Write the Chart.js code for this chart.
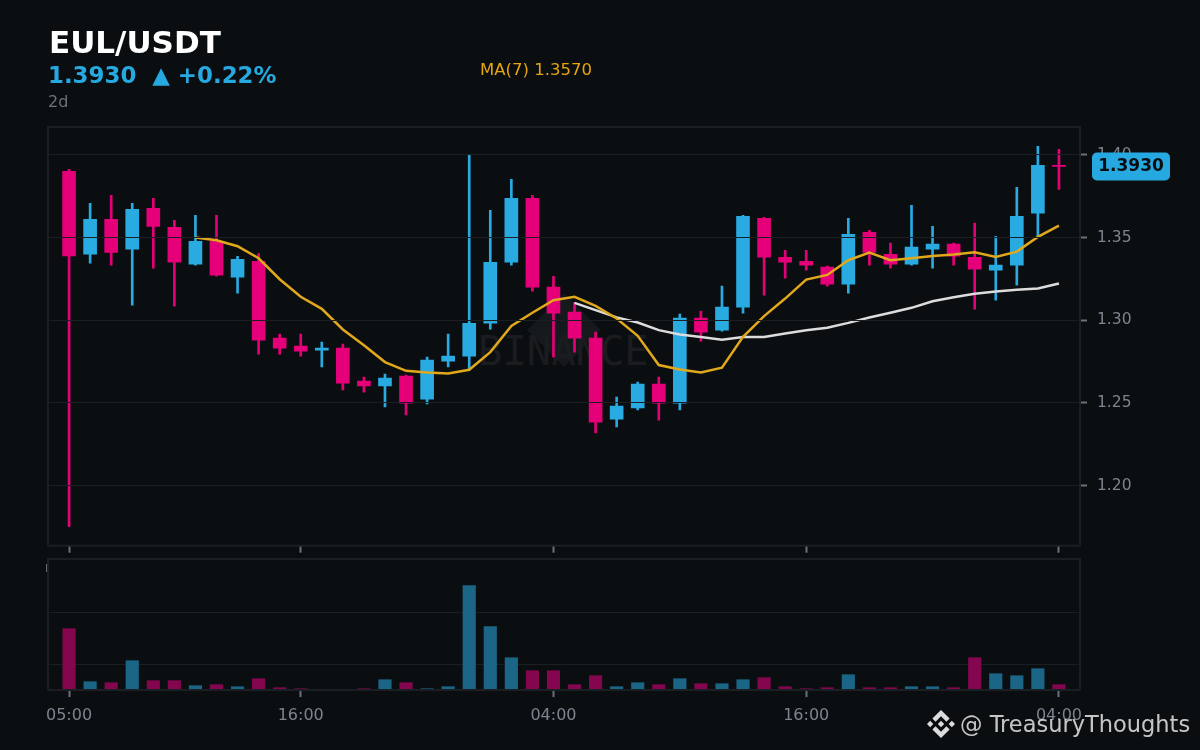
<!DOCTYPE html>
<html>
<head>
<meta charset="utf-8">
<script src="https://cdn.jsdelivr.net/npm/chart.js@4"></script>
<style>
  html, body { margin: 0; padding: 0; width: 1200px; height: 750px; overflow: hidden; background: #0b0e11; }
  body { position: relative; font-family: "DejaVu Sans", sans-serif; }
  canvas { position: absolute; left: 0; }
  #priceChart { top: 0; }
  #volumeChart { top: 555px; }
  .label { position: absolute; white-space: pre; line-height: 1; }
  #title { left: 49px; top: 27px; font-size: 31px; font-weight: bold; color: #ffffff; }
  #quote { left: 48px; top: 64px; font-size: 22.9px; font-weight: bold; color: #26a9e0; }
  #period { left: 48px; top: 94px; font-size: 16px; color: #6d737b; }
  #maText { left: 480px; top: 62px; font-size: 16.5px; color: #e6a50f; }
  #wmText { left: 478px; top: 331px; font-family: "DejaVu Sans Mono", monospace; font-size: 40.5px; color: #1a1c1f; }
  #wmDiamond { position: absolute; left: 538px; top: 304px; width: 52px; height: 52px; background: #16191c; transform: rotate(45deg); }
  #sliver { position: absolute; left: 46px; top: 564px; width: 1px; height: 8px; background: #6a6f76; }
  #handle { left: 960px; top: 713px; font-size: 22.5px; color: rgba(228, 228, 228, 0.86); }
  #logo { position: absolute; left: 927px; top: 710px; width: 28px; height: 28px; }
</style>
</head>
<body>
<div id="wmDiamond"></div>
<div class="label" id="wmText">BINANCE</div>
<canvas id="priceChart" width="1200" height="565"></canvas>
<canvas id="volumeChart" width="1200" height="195"></canvas>
<div class="label" id="title">EUL/USDT</div>
<div class="label" id="quote">1.3930  ▲ +0.22%</div>
<div class="label" id="period">2d</div>
<div class="label" id="maText">MA(7) 1.3570</div>
<div id="sliver"></div>
<svg id="logo" viewBox="0 0 126.61 126.61">
  <path fill="#dcdcdc" d="M38.73 53.2l24.59-24.58 24.6 24.6 14.3-14.31L63.32 0 24.42 38.9l14.31 14.3zM0 63.31l14.3-14.31 14.31 14.31-14.31 14.3zM38.73 73.41l24.59 24.59 24.6-24.6 14.31 14.29-38.9 38.91-38.91-38.88-.02-.02zM98 63.31l14.3-14.31 14.31 14.3-14.31 14.32zM77.83 63.3L63.32 48.78 52.59 59.51l-1.24 1.23-2.54 2.54 14.51 14.5 14.51-14.47z"/>
</svg>
<div class="label" id="handle">@ TreasuryThoughts</div>

<script>
const opens = [1.3901, 1.3399, 1.3611, 1.3430, 1.3677, 1.3562, 1.3339, 1.3478, 1.3260, 1.3357, 1.2892, 1.2843,
  1.2819, 1.2831, 1.2632, 1.2602, 1.2662, 1.2523, 1.2753, 1.2783, 1.2982, 1.3351, 1.3738, 1.3200,
  1.3049, 1.2892, 1.2402, 1.2469, 1.2614, 1.2499, 1.3013, 1.2940, 1.3079, 1.3617, 1.3381, 1.3357,
  1.3321, 1.3218, 1.3532, 1.3399, 1.3339, 1.3430, 1.3460, 1.3381, 1.3303, 1.3333, 1.3647, 1.3937];
const closes = [1.3389, 1.3611, 1.3411, 1.3671, 1.3568, 1.3351, 1.3478, 1.3272, 1.3369, 1.2880, 1.2831, 1.2813,
  1.2831, 1.2620, 1.2602, 1.2650, 1.2499, 1.2759, 1.2783, 1.2982, 1.3351, 1.3738, 1.3200, 1.3043,
  1.2892, 1.2384, 1.2481, 1.2614, 1.2499, 1.3013, 1.2928, 1.3079, 1.3629, 1.3381, 1.3351, 1.3333,
  1.3218, 1.3520, 1.3411, 1.3339, 1.3442, 1.3460, 1.3387, 1.3309, 1.3333, 1.3629, 1.3937, 1.3930];
const highs = [1.3913, 1.3707, 1.3756, 1.3707, 1.3738, 1.3605, 1.3635, 1.3635, 1.3387, 1.3403, 1.2916, 1.2916,
  1.2868, 1.2856, 1.2656, 1.2674, 1.2668, 1.2777, 1.2916, 1.3997, 1.3665, 1.3852, 1.3756, 1.3266,
  1.3109, 1.2928, 1.2535, 1.2626, 1.2656, 1.3037, 1.3055, 1.3206, 1.3635, 1.3623, 1.3423, 1.3423,
  1.3327, 1.3617, 1.3544, 1.3466, 1.3695, 1.3568, 1.3466, 1.3587, 1.3508, 1.3804, 1.4052, 1.4034];
const lows = [1.1751, 1.3345, 1.3333, 1.3091, 1.3315, 1.3085, 1.3333, 1.3266, 1.3164, 1.2795, 1.2795, 1.2783,
  1.2717, 1.2578, 1.2565, 1.2475, 1.2427, 1.2493, 1.2717, 1.2698, 1.2946, 1.3333, 1.3176, 1.2777,
  1.2807, 1.2318, 1.2354, 1.2457, 1.2396, 1.2457, 1.2874, 1.2934, 1.3043, 1.3152, 1.3254, 1.3303,
  1.3206, 1.3164, 1.3333, 1.3315, 1.3333, 1.3315, 1.3333, 1.3067, 1.3121, 1.3212, 1.3502, 1.3792];
// first value of each moving average is at candle 6 and candle 24
const ma7 = [1.3500, 1.3484, 1.3448, 1.3375, 1.3248, 1.3142, 1.3069, 1.2944, 1.2849, 1.2747, 1.2694, 1.2684,
  1.2678, 1.2700, 1.2807, 1.2966, 1.3045, 1.3121, 1.3142, 1.3087, 1.3011, 1.2906, 1.2729, 1.2702,
  1.2684, 1.2713, 1.2900, 1.3025, 1.3131, 1.3246, 1.3274, 1.3363, 1.3409, 1.3363, 1.3375, 1.3389,
  1.3397, 1.3411, 1.3383, 1.3415, 1.3504, 1.3572];
const ma25 = [1.3105, 1.3061, 1.3017, 1.2986, 1.2940, 1.2914, 1.2898, 1.2882, 1.2898, 1.2898, 1.2920, 1.2940,
  1.2954, 1.2984, 1.3017, 1.3045, 1.3075, 1.3115, 1.3139, 1.3160, 1.3174, 1.3184, 1.3192, 1.3222];
const volumes = [61.3, 8.3, 7.3, 29.3, 9.3, 9.3, 4.3, 5.3, 3.3, 11.3, 2.3, 1.3,
  0.6, 0.5, 1.3, 10.3, 7.3, 1.3, 3.3, 104.3, 63.3, 32.3, 19.3, 19.3,
  5.3, 14.3, 3.3, 7.3, 5.3, 11.3, 6.3, 6.3, 10.3, 12.3, 3.3, 1.3,
  2.3, 15.3, 2.3, 2.3, 3.3, 3.3, 2.3, 32.3, 16.3, 14.3, 21.3, 5.3];
const xTickIndexes = [0, 11, 23, 35, 47];
const xTickLabels = ["05:00", "16:00", "04:00", "16:00", "04:00"];
const priceTicks = [1.2, 1.25, 1.3, 1.35, 1.4];
const volumeTicks = [26, 78];
const lastPrice = 1.393;

const upColor = "#29abe2";
const downColor = "#e5007a";
const upVolumeColor = "#1b6587";
const downVolumeColor = "#84064f";
const gridColor = "#1b1f23";
const tickColor = "#6b717a";
const textColor = "#7d848e";

const isUp = (i) => closes[i] >= opens[i];
const candleColors = opens.map((o, i) => (isUp(i) ? upColor : downColor));
const volumeColors = opens.map((o, i) => (isUp(i) ? upVolumeColor : downVolumeColor));

// frame around the plot area, the axis borders only cover two sides
const framePlugin = {
  id: "frame",
  afterDraw(chart) {
    const { ctx, chartArea } = chart;
    ctx.save();
    ctx.strokeStyle = gridColor;
    ctx.lineWidth = 2;
    ctx.strokeRect(chartArea.left, chartArea.top, chartArea.right - chartArea.left, chartArea.bottom - chartArea.top);
    ctx.restore();
  },
};

const priceTagPlugin = {
  id: "priceTag",
  afterDraw(chart) {
    const { ctx } = chart;
    const y = chart.scales.y.getPixelForValue(lastPrice);
    ctx.save();
    ctx.fillStyle = "#26a9e0";
    ctx.beginPath();
    ctx.roundRect(1092, y - 14, 78, 28, 5);
    ctx.fill();
    ctx.fillStyle = "#0a0d10";
    ctx.font = "bold 17px 'DejaVu Sans'";
    ctx.textAlign = "center";
    ctx.textBaseline = "middle";
    ctx.fillText(lastPrice.toFixed(4), 1131, y);
    ctx.restore();
  },
};

function xAxis(height, showLabels) {
  return {
    type: "linear",
    min: -1,
    max: 48,
    offset: false,
    afterBuildTicks: (axis) => {
      axis.ticks = xTickIndexes.map((v) => ({ value: v }));
    },
    afterFit: (axis) => {
      axis.height = height;
    },
    border: { display: false },
    grid: { drawOnChartArea: false, drawTicks: true, tickLength: 7, tickWidth: 2, tickColor: tickColor, offset: false },
    ticks: {
      display: showLabels,
      autoSkip: false,
      maxRotation: 0,
      padding: 9,
      color: textColor,
      font: { family: "DejaVu Sans", size: 16 },
      callback: (v) => xTickLabels[xTickIndexes.indexOf(v)],
    },
  };
}

new Chart(document.getElementById("priceChart"), {
  type: "bar",
  data: {
    datasets: [
      {
        type: "line",
        label: "MA(7)",
        data: ma7.map((v, i) => ({ x: i + 6, y: v })),
        borderColor: "#e0a81a",
        borderWidth: 2.5,
        pointRadius: 0,
        order: 0,
      },
      {
        type: "line",
        label: "MA(25)",
        data: ma25.map((v, i) => ({ x: i + 24, y: v })),
        borderColor: "#dcdcdc",
        borderWidth: 2.5,
        pointRadius: 0,
        order: 0,
      },
      {
        label: "Body",
        data: opens.map((o, i) => ({ x: i, y: [o, closes[i]] })),
        backgroundColor: candleColors,
        borderWidth: 0,
        barThickness: 13,
        grouped: false,
        order: 1,
      },
      {
        label: "Wick",
        data: highs.map((h, i) => ({ x: i, y: [lows[i], h] })),
        backgroundColor: candleColors,
        borderWidth: 0,
        barThickness: 2,
        grouped: false,
        order: 2,
      },
    ],
  },
  options: {
    responsive: false,
    animation: false,
    layout: { padding: { left: 48, top: 127, right: 0, bottom: 0 } },
    plugins: { legend: { display: false }, tooltip: { enabled: false }, title: { display: false } },
    scales: {
      x: xAxis(19, false),
      y: {
        position: "right",
        min: 1.1636,
        max: 1.4169,
        afterBuildTicks: (axis) => {
          axis.ticks = priceTicks.map((v) => ({ value: v }));
        },
        afterFit: (axis) => {
          axis.width = 120;
        },
        border: { display: false },
        grid: { color: gridColor, lineWidth: 1, z: 1, drawTicks: true, tickLength: 7, tickWidth: 2, tickColor: tickColor },
        ticks: {
          padding: 10,
          color: textColor,
          font: { family: "DejaVu Sans", size: 15.5 },
          callback: (v) => v.toFixed(2),
        },
      },
    },
  },
  plugins: [framePlugin, priceTagPlugin],
});

new Chart(document.getElementById("volumeChart"), {
  type: "bar",
  data: {
    datasets: [
      {
        label: "Volume",
        data: volumes.map((v, i) => ({ x: i, y: v })),
        backgroundColor: volumeColors,
        borderWidth: 0,
        barThickness: 12.5,
      },
    ],
  },
  options: {
    responsive: false,
    animation: false,
    layout: { padding: { left: 48, top: 4, right: 0, bottom: 0 } },
    plugins: { legend: { display: false }, tooltip: { enabled: false }, title: { display: false } },
    scales: {
      x: xAxis(60, true),
      y: {
        position: "right",
        min: 0,
        max: 131,
        afterBuildTicks: (axis) => {
          axis.ticks = volumeTicks.map((v) => ({ value: v }));
        },
        afterFit: (axis) => {
          axis.width = 120;
        },
        border: { display: false },
        grid: { color: gridColor, lineWidth: 1, drawTicks: false },
        ticks: { display: false },
      },
    },
  },
  plugins: [framePlugin],
});
</script>
</body>
</html>
